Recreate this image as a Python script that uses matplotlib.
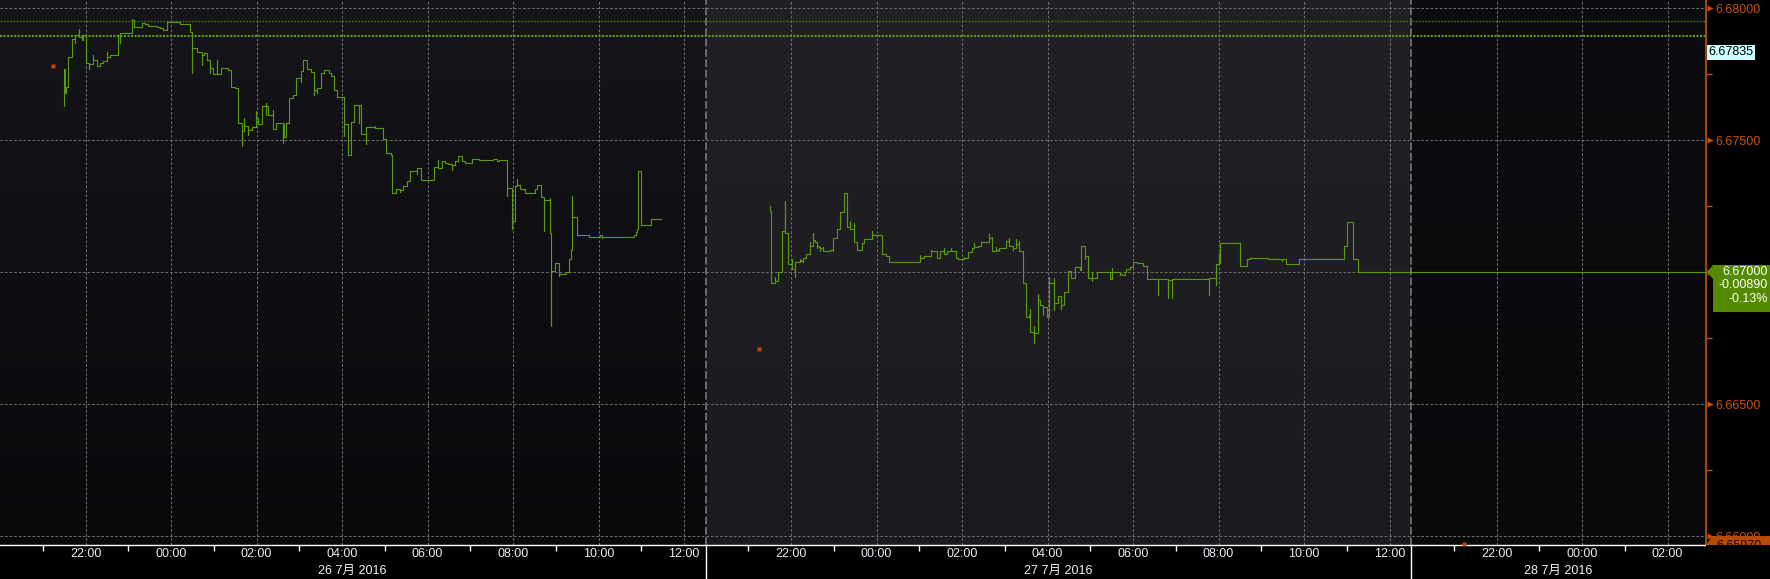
import numpy as np
import matplotlib.pyplot as plt
import matplotlib.transforms as mtrans
from matplotlib.colors import LinearSegmentedColormap
from matplotlib.patches import Polygon, Rectangle

plt.rcParams['font.family'] = ['Liberation Sans', 'Noto Sans CJK SC', 'DejaVu Sans']

# ---- data (USD/CNH ticks, Beijing time) ----
s1_time = ["21:30", "21:30", "21:31", "21:32", "21:36", "21:41", "21:45", "21:45", "21:51", "21:51",
           "21:55", "21:57", "22:01", "22:05", "22:05", "22:11", "22:11", "22:16", "22:20", "22:25",
           "22:30", "22:30", "22:34", "22:45", "22:48", "22:48", "23:05", "23:05", "23:08", "23:19",
           "23:24", "23:28", "23:40", "23:44", "23:49", "23:54", "00:12", "00:26", "00:30", "00:30",
           "00:36", "00:43", "00:43", "00:46", "00:50", "00:55", "00:55", "00:59", "01:05", "01:05",
           "01:10", "01:20", "01:24", "01:30", "01:34", "01:39", "01:39", "01:43", "01:43", "01:48",
           "01:48", "01:54", "01:59", "01:59", "02:02", "02:07", "02:13", "02:13", "02:13", "02:16",
           "02:23", "02:23", "02:27", "02:37", "02:37", "02:38", "02:42", "02:46", "02:51", "02:56",
           "03:02", "03:02", "03:05", "03:11", "03:16", "03:20", "03:20", "03:25", "03:25", "03:30",
           "03:34", "03:41", "03:45", "03:49", "03:53", "04:03", "04:03", "04:09", "04:13", "04:17",
           "04:24", "04:24", "04:27", "04:33", "04:33", "04:46", "04:46", "04:57", "05:02", "05:08",
           "05:10", "05:16", "05:22", "05:22", "05:26", "05:31", "05:36", "05:45", "05:45", "05:51",
           "06:09", "06:14", "06:14", "06:20", "06:24", "06:29", "06:34", "06:34", "06:39", "06:43",
           "06:48", "06:53", "07:03", "07:12", "07:32", "07:38", "07:40", "07:52", "07:52", "07:58",
           "07:58", "08:02", "08:06", "08:06", "08:10", "08:17", "08:31", "08:34", "08:39", "08:44",
           "08:44", "08:52", "08:52", "08:53", "08:53", "08:59", "09:05", "09:05", "09:14", "09:19",
           "09:21", "09:22", "09:23", "09:23", "09:29", "09:47", "10:02", "10:05", "10:05", "10:49",
           "10:52", "10:54", "10:55", "11:00", "11:14", "11:28"]
s1_price = [6.67628, 6.67770, 6.67678, 6.67703, 6.67817, 6.67882, 6.67867, 6.67899, 6.67920, 6.67892,
            6.67880, 6.67899, 6.67794, 6.67769, 6.67788, 6.67823, 6.67804, 6.67782, 6.67794, 6.67800,
            6.67833, 6.67817, 6.67823, 6.67899, 6.67867, 6.67905, 6.67959, 6.67955, 6.67928, 6.67943,
            6.67939, 6.67933, 6.67928, 6.67924, 6.67918, 6.67947, 6.67939, 6.67909, 6.67754, 6.67851,
            6.67833, 6.67785, 6.67823, 6.67832, 6.67802, 6.67756, 6.67773, 6.67751, 6.67802, 6.67751,
            6.67773, 6.67766, 6.67703, 6.67697, 6.67565, 6.67477, 6.67533, 6.67584, 6.67555, 6.67521,
            6.67540, 6.67550, 6.67609, 6.67584, 6.67561, 6.67628, 6.67640, 6.67596, 6.67630, 6.67596,
            6.67615, 6.67542, 6.67565, 6.67489, 6.67562, 6.67514, 6.67565, 6.67659, 6.67672, 6.67737,
            6.67722, 6.67764, 6.67803, 6.67770, 6.67760, 6.67672, 6.67691, 6.67678, 6.67697, 6.67756,
            6.67766, 6.67754, 6.67744, 6.67691, 6.67663, 6.67517, 6.67562, 6.67445, 6.67569, 6.67634,
            6.67565, 6.67634, 6.67523, 6.67486, 6.67550, 6.67555, 6.67548, 6.67504, 6.67451, 6.67445,
            6.67300, 6.67315, 6.67303, 6.67310, 6.67328, 6.67346, 6.67383, 6.67371, 6.67396, 6.67349,
            6.67399, 6.67424, 6.67396, 6.67421, 6.67414, 6.67409, 6.67386, 6.67405, 6.67421, 6.67439,
            6.67421, 6.67414, 6.67429, 6.67425, 6.67429, 6.67421, 6.67425, 6.67288, 6.67319, 6.67162,
            6.67193, 6.67325, 6.67353, 6.67332, 6.67315, 6.67300, 6.67315, 6.67330, 6.67285, 6.67155,
            6.67275, 6.67281, 6.67149, 6.66797, 6.67004, 6.67036, 6.66985, 6.66995, 6.67000, 6.67051,
            6.67084, 6.67111, 6.67290, 6.67210, 6.67142, 6.67134, 6.67142, 6.67129, 6.67134, 6.67142,
            6.67152, 6.67162, 6.67383, 6.67180, 6.67202, 6.67202]

s2_time = ["21:31", "21:31", "21:32", "21:38", "21:38", "21:42", "21:48", "21:52", "21:52", "21:56",
           "22:02", "22:02", "22:06", "22:06", "22:12", "22:12", "22:14", "22:17", "22:17", "22:21",
           "22:26", "22:26", "22:31", "22:31", "22:34", "22:36", "22:36", "22:39", "22:41", "22:41",
           "22:45", "22:45", "22:55", "22:59", "22:59", "23:05", "23:09", "23:15", "23:19", "23:23",
           "23:23", "23:29", "23:29", "23:33", "23:39", "23:43", "23:54", "23:54", "00:08", "00:13",
           "00:17", "01:01", "01:01", "01:06", "01:16", "01:16", "01:25", "01:29", "01:35", "01:35",
           "01:39", "01:45", "01:45", "01:51", "01:55", "02:03", "02:03", "02:09", "02:14", "02:17",
           "02:17", "02:23", "02:27", "02:38", "02:38", "02:42", "02:42", "02:47", "02:47", "02:52",
           "02:52", "03:02", "03:06", "03:06", "03:12", "03:12", "03:16", "03:16", "03:20", "03:20",
           "03:26", "03:30", "03:34", "03:36", "03:36", "03:41", "03:41", "03:41", "03:46", "03:46",
           "03:50", "03:54", "03:54", "03:59", "03:59", "04:02", "04:02", "04:09", "04:09", "04:09",
           "04:14", "04:19", "04:19", "04:23", "04:29", "04:33", "04:39", "04:46", "04:47", "04:53",
           "04:53", "04:57", "05:03", "05:03", "05:03", "05:10", "05:27", "05:31", "05:31", "05:42",
           "05:42", "05:45", "05:48", "05:50", "05:56", "06:00", "06:06", "06:14", "06:20", "06:35",
           "06:35", "06:49", "06:49", "06:54", "06:54", "07:47", "07:47", "07:56", "07:56", "08:01",
           "08:01", "08:02", "08:30", "08:40", "08:44", "09:10", "09:29", "09:29", "09:34", "09:53",
           "10:56", "11:00", "11:08", "11:08", "11:08", "11:15"]
s2_price = [6.67251, 6.67233, 6.66958, 6.66983, 6.66965, 6.67000, 6.67155, 6.67269, 6.67148, 6.67030,
            6.67050, 6.67011, 6.66983, 6.67038, 6.67052, 6.67047, 6.67043, 6.67038, 6.67053, 6.67068,
            6.67113, 6.67098, 6.67148, 6.67121, 6.67116, 6.67093, 6.67100, 6.67097, 6.67082, 6.67091,
            6.67094, 6.67081, 6.67083, 6.67081, 6.67129, 6.67163, 6.67227, 6.67299, 6.67173, 6.67193,
            6.67163, 6.67185, 6.67114, 6.67083, 6.67110, 6.67125, 6.67155, 6.67140, 6.67068, 6.67063,
            6.67038, 6.67066, 6.67053, 6.67063, 6.67083, 6.67079, 6.67053, 6.67079, 6.67091, 6.67069,
            6.67079, 6.67091, 6.67079, 6.67053, 6.67049, 6.67059, 6.67053, 6.67076, 6.67091, 6.67110,
            6.67095, 6.67098, 6.67116, 6.67144, 6.67129, 6.67132, 6.67079, 6.67094, 6.67084, 6.67079,
            6.67091, 6.67117, 6.67129, 6.67100, 6.67084, 6.67093, 6.67125, 6.67106, 6.67117, 6.67081,
            6.66958, 6.66829, 6.66838, 6.66859, 6.66773, 6.66731, 6.66797, 6.66769, 6.66917, 6.66895,
            6.66875, 6.66838, 6.66867, 6.66857, 6.66832, 6.66981, 6.66958, 6.66977, 6.66857, 6.66882,
            6.66910, 6.66862, 6.66875, 6.66924, 6.67006, 6.66977, 6.67019, 6.67009, 6.67098, 6.67052,
            6.67060, 6.66977, 6.66968, 6.67000, 6.66977, 6.67000, 6.66973, 6.67015, 6.67000, 6.66989,
            6.66994, 6.66990, 6.67000, 6.67014, 6.67019, 6.67039, 6.67034, 6.67023, 6.66973, 6.66912,
            6.66973, 6.66904, 6.66971, 6.66904, 6.66973, 6.66912, 6.66977, 6.66951, 6.67030, 6.67072,
            6.67034, 6.67110, 6.67023, 6.67049, 6.67053, 6.67049, 6.67044, 6.67049, 6.67031, 6.67049,
            6.67098, 6.67189, 6.67098, 6.67068, 6.67049, 6.67000]

open_time = ["21:15", "21:15", "21:15"]
open_price = [6.67780, 6.66708, 6.65970]
upper_dotted = 6.67951
lower_dotted = 6.67895
tag_price = "6.67835"
last_price = 6.67000
last_text = ["6.67000", "-0.00890", "-0.13%"]
low_text = "6.65970"

session_dates = ["26 7月 2016", "27 7月 2016", "28 7月 2016"]
hour_labels = ["22:00", "00:00", "02:00", "04:00", "06:00", "08:00", "10:00", "12:00"]
odd_hours = ["21:00", "23:00", "01:00", "03:00", "05:00", "07:00", "09:00", "11:00"]
y_major = [6.660, 6.665, 6.670, 6.675, 6.680]
y_minor = [6.6625, 6.6675, 6.6725, 6.6775]

SESSION_LEN = 16.5      # each session runs 20:00 -> 12:30
W, H = 1770, 579
AX_R, AX_B = 1706, 545  # right axis and bottom axis in pixels
X_MAX = AX_R / (705.5 / SESSION_LEN)
Y_MIN, Y_MAX = 6.65967, 6.68031

GREEN = '#5a9a10'
ORANGE = '#c8500e'
GRID = '#6c6c6c'


def to_x(times, s):
    out = []
    for t in times:
        hh, mm = map(int, t.split(':'))
        out.append(s * SESSION_LEN + (hh - 20) % 24 + mm / 60)
    return np.array(out)


def fpx(x, y):
    return x / W, 1 - y / H


fig = plt.figure(figsize=(W / 100, H / 100), dpi=100, facecolor='black')
ax = fig.add_axes([0, (H - AX_B) / H, AX_R / W, AX_B / H])
ax.set_facecolor('black')

# session backgrounds (slight vertical gradient)
bg = [('#15151a', '#09090c'), ('#212125', '#1b1b1f'), ('#0d0d11', '#09090c')]
grad = np.linspace(0, 1, 256).reshape(-1, 1)
for s, (top, bot) in enumerate(bg):
    cmap = LinearSegmentedColormap.from_list('bg%d' % s, [bot, top])
    x0 = s * SESSION_LEN
    x1 = min((s + 1) * SESSION_LEN, X_MAX)
    ax.imshow(grad, extent=[x0, x1, Y_MIN, Y_MAX], origin='lower', aspect='auto',
              cmap=cmap, interpolation='bilinear', zorder=0)

ax.set_xlim(0, X_MAX)
ax.set_ylim(Y_MIN, Y_MAX)

# grid
major_x, major_lab, minor_x = [], [], []
for s in range(3):
    n = 8 if s < 2 else 3
    major_x += list(to_x(hour_labels[:n], s))
    major_lab += hour_labels[:n]
    minor_x += list(to_x(odd_hours[:n], s))
for xv in major_x:
    ax.axvline(xv, color=GRID, lw=0.75, ls=(0, (2.6, 1.8)), zorder=1)
for yv in y_major:
    ax.axhline(yv, color=GRID, lw=0.75, ls=(0, (2.6, 1.8)), zorder=1)
for s in (1, 2):
    ax.axvline(s * SESSION_LEN, color='#808080', lw=1.1, ls=(0, (5, 1.8)), zorder=1)

# reference lines
ax.axhline(upper_dotted, color='#46701a', lw=1.0, ls=(0, (1.3, 1.0)), zorder=2)
ax.axhline(lower_dotted, color='#5e9c12', lw=1.5, ls=(0, (1.0, 0.7)), zorder=2)

# price
x1 = to_x(s1_time, 0)
x2 = to_x(s2_time, 1)
ax.plot(x1, s1_price, drawstyle='steps-post', color=GREEN, lw=0.8, zorder=3)
ax.plot(x2, s2_price, drawstyle='steps-post', color=GREEN, lw=0.8, zorder=3)
ax.plot([x2[-1], X_MAX], [last_price, last_price], color=GREEN, lw=0.8, zorder=3, clip_on=False)

ox = np.concatenate([to_x([open_time[s]], s) for s in range(3)])
ax.plot(ox, open_price, 's', ms=2.6, color='#c8440a', mec='none', zorder=4)

# spines
for side in ('top', 'left'):
    ax.spines[side].set_visible(False)
ax.spines['bottom'].set_color('white')
ax.spines['bottom'].set_linewidth(1.0)
ax.spines['right'].set_color(ORANGE)
ax.spines['right'].set_linewidth(1.2)

# x axis
ax.set_xticks(major_x, labels=major_lab)
ax.set_xticks(minor_x, minor=True)
ax.tick_params(axis='x', which='major', length=0, pad=2.5, labelsize=9, labelcolor='#e8eef6')
ax.tick_params(axis='x', which='minor', length=4, width=1, color='white', direction='out')

trans = mtrans.blended_transform_factory(ax.transData, ax.transAxes)
for s in range(3):
    x0 = s * SESSION_LEN
    xc = x0 + SESSION_LEN / 2 if s < 2 else (x0 + X_MAX) / 2
    ax.text(xc, -(571 - AX_B) / AX_B, session_dates[s], transform=trans, ha='center', va='center',
            fontsize=9, color='#eef2f8')
    if s > 0:
        ax.plot([x0, x0], [0, -(H - AX_B) / AX_B], transform=trans, color='white', lw=1.0, clip_on=False)

# y axis on the right (the 6.67000 level is shown in the last-price tag instead)
ax.yaxis.tick_right()
ax.set_yticks(y_major, labels=['' if v == last_price else '%.5f' % v for v in y_major])
ax.set_yticks(y_minor, minor=True)
ax.tick_params(axis='y', which='major', length=0, pad=7, labelsize=9, labelcolor=ORANGE)
ax.tick_params(axis='y', which='minor', length=4, width=1, color=ORANGE, direction='out')
tri = ax.transData + mtrans.ScaledTranslation(3.5 / 100, 0, fig.dpi_scale_trans)
ax.plot([X_MAX] * len(y_major), y_major, '>', ms=4.5, color=ORANGE, mec='none', transform=tri, clip_on=False)

# tags at the right
fig.text(*fpx(1708, 52), tag_price, color='black', fontsize=9, ha='left', va='center',
         bbox=dict(boxstyle='square,pad=0.12', fc='#ccffff', ec='none'), zorder=6)

green_box = Polygon([fpx(1707, 272), fpx(1713, 265), fpx(1770, 265), fpx(1770, 312),
                     fpx(1713, 312), fpx(1713, 279)], closed=True, fc='#548a00', ec='none',
                    transform=fig.transFigure, zorder=5)
fig.add_artist(green_box)
for i, txt in enumerate(last_text):
    fig.text(*fpx(1768, 272 + 13.5 * i), txt, color='white', fontsize=9, ha='right', va='center', zorder=6)

low_box = Polygon([fpx(1706, 545), fpx(1712, 536), fpx(1770, 536), fpx(1770, 545)], closed=True,
                  fc='#b84a08', ec='none', transform=fig.transFigure, zorder=5)
fig.add_artist(low_box)
fig.text(*fpx(1716, 546), low_text, color='#1a0800', fontsize=9, ha='left', va='center', zorder=6)
fig.add_artist(Rectangle(fpx(1706, H), (W - 1706) / W, (H - AX_B) / H, fc='black', ec='none',
                         transform=fig.transFigure, zorder=7))

fig.savefig('out.png', dpi=100, facecolor='black')
